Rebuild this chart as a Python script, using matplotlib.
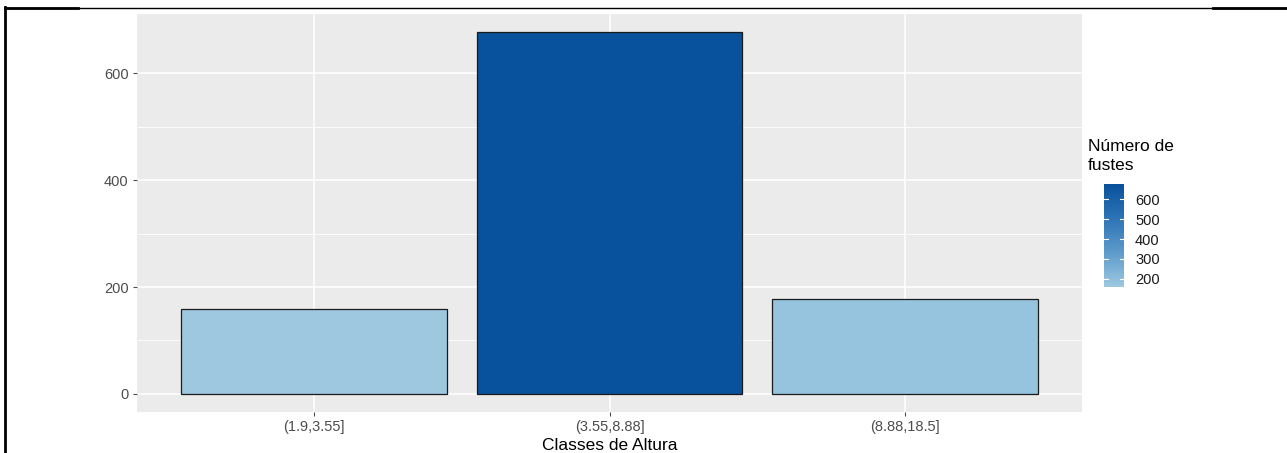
import matplotlib
matplotlib.use("Agg")
import matplotlib.pyplot as plt
import numpy as np
from matplotlib.colors import LinearSegmentedColormap, Normalize
from matplotlib.lines import Line2D
import matplotlib.cm as cm

plt.rcParams['font.family'] = ['Liberation Sans', 'DejaVu Sans']

categories = ["(1.9,3.55]", "(3.55,8.88]", "(8.88,18.5]"]
counts = [159, 677, 178]
y_ticks = [0, 200, 400, 600]
cbar_ticks = [200, 300, 400, 500, 600]
x_label = "Classes de Altura"
legend_title = "Número de\nfustes"

W, H = 1287, 453
fig = plt.figure(figsize=(W / 100, H / 100), dpi=100)
fig.patch.set_facecolor("white")

cmap = LinearSegmentedColormap.from_list("blu", ["#9DC8E0", "#5E9BCB", "#2C74B6", "#08519C"])
norm = Normalize(vmin=min(counts), vmax=max(counts))

ax = fig.add_axes([137 / W, 1 - 412 / H, (1082 - 137) / W, (412 - 14) / H])
ax.set_facecolor("#EBEBEB")
x = np.arange(1, len(categories) + 1)
ax.set_xlim(0.4, len(categories) + 0.6)
ymax = max(counts)
ax.set_ylim(-0.05 * ymax, ymax * 1.05)

for yv in [100, 300, 500]:
    ax.axhline(yv, color="white", lw=0.6, zorder=0.5)
for yv in y_ticks:
    ax.axhline(yv, color="white", lw=1.1, zorder=0.6)
for xv in x:
    ax.axvline(xv, color="white", lw=1.1, zorder=0.6)

ax.bar(x, counts, width=0.9, color=[cmap(norm(v)) for v in counts],
       edgecolor="#1a1a1a", linewidth=0.9, zorder=2)

ax.set_xticks(x)
ax.set_xticklabels(categories, fontsize=10.5, color="#4D4D4D")
ax.set_yticks(y_ticks)
ax.set_yticklabels([str(v) for v in y_ticks], fontsize=10.5, color="#4D4D4D")
ax.tick_params(axis="both", length=3, width=0.8, color="#4D4D4D", pad=3)
for s in ax.spines.values():
    s.set_visible(False)
ax.set_xlabel(x_label, fontsize=12.5, color="black", labelpad=3)

# colorbar
cax = fig.add_axes([1104 / W, 1 - 287 / H, 20 / W, (287 - 184) / H])
sm = cm.ScalarMappable(norm=norm, cmap=cmap)
cb = fig.colorbar(sm, cax=cax, ticks=cbar_ticks)
cb.outline.set_visible(False)
cax.tick_params(axis="y", length=0, labelsize=10.5, labelcolor="#1a1a1a", pad=8)
for t in cbar_ticks:
    yy = t
    cax.plot([0, 0.2], [yy, yy], color="white", lw=0.8, transform=cax.get_yaxis_transform())
    cax.plot([0.8, 1.0], [yy, yy], color="white", lw=0.8, transform=cax.get_yaxis_transform())
fig.text(1088 / W, 1 - 139 / H, legend_title, fontsize=12.5, ha="left", va="top",
         linespacing=1.3, color="black")

# document frame lines
fig.add_artist(Line2D([5 / W, 1287 / W], [1 - 7.5 / H, 1 - 7.5 / H], color="black", lw=1.0))
fig.add_artist(Line2D([5 / W, 78 / W], [1 - 7.8 / H, 1 - 7.8 / H], color="black", lw=2.0))
fig.add_artist(Line2D([1213 / W, 1287 / W], [1 - 8.2 / H, 1 - 8.2 / H], color="black", lw=2.0))
fig.add_artist(Line2D([5 / W, 5 / W], [0, 1 - 7 / H], color="black", lw=2.0))

fig.savefig("out.png", dpi=100)
